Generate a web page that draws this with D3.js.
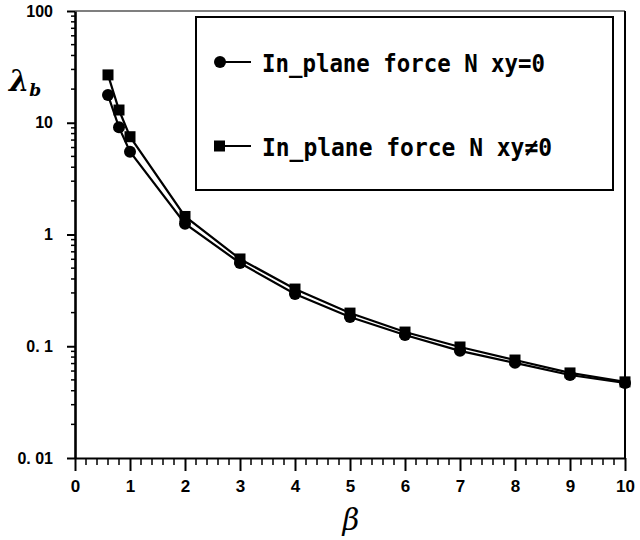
<!DOCTYPE html>
<html>
<head>
<meta charset="utf-8">
<script src="https://cdn.jsdelivr.net/npm/d3@7/dist/d3.min.js"></script>
<style>
  html, body { margin: 0; padding: 0; background: #fff; }
  svg { display: block; }
</style>
</head>
<body>
<svg id="chart" width="640" height="540"></svg>
<script>
// Buckling coefficient λb versus aspect ratio β
const betaValues = [0.6, 0.8, 1, 2, 3, 4, 5, 6, 7, 8, 9, 10];
const lambdaNxy0 = [17.7, 9.1, 5.5, 1.25, 0.556, 0.293, 0.183, 0.126, 0.091, 0.071, 0.0553, 0.0469];
const lambdaNxyNon0 = [26.8, 13.0, 7.5, 1.45, 0.604, 0.325, 0.198, 0.134, 0.0985, 0.0753, 0.0577, 0.048];

const xTickValues = [0, 1, 2, 3, 4, 5, 6, 7, 8, 9, 10];
const yTickValues = [100, 10, 1, 0.1, 0.01];
const yTickLabels = ["100", "10", "1", "0. 1", "0. 01"];

const legendLabels = ["In_plane force N xy=0", "In_plane force N xy\u22600"];

const svg = d3.select("#chart");
const plotLeft = 75, plotRight = 625, plotTop = 11, plotBottom = 458;

const x = d3.scaleLinear().domain([0, 10]).range([plotLeft, plotRight]);
const y = d3.scaleLog().domain([0.01, 100]).range([plotBottom, plotTop]);

const labelFont = "Liberation Sans, Arial, sans-serif";

// Frame: thin top edge and right edge
svg.append("line").attr("x1", plotLeft).attr("x2", plotRight).attr("y1", plotTop).attr("y2", plotTop)
  .attr("stroke", "#000").attr("stroke-width", 1.2);
svg.append("line").attr("x1", plotRight).attr("x2", plotRight).attr("y1", plotTop).attr("y2", plotBottom)
  .attr("stroke", "#000").attr("stroke-width", 2);

// Y axis (log)
const yAxis = svg.append("g").attr("transform", `translate(${plotLeft},0)`)
  .call(d3.axisLeft(y).tickValues(yTickValues).tickSize(8).tickSizeOuter(0)
    .tickFormat((d, i) => yTickLabels[i]));
yAxis.select(".domain").attr("stroke-width", 2.6);
yAxis.selectAll(".tick line").attr("stroke-width", 2);
yAxis.selectAll(".tick text")
  .attr("x", -22)
  .style("font-family", labelFont)
  .style("font-weight", "bold").style("font-size", "16px");

// Y minor ticks
const yMinor = [];
for (let e = -2; e < 2; e++) for (let m = 2; m <= 9; m++) yMinor.push(m * Math.pow(10, e));
svg.append("g").attr("class", "y-minor").selectAll("line").data(yMinor).join("line")
  .attr("x1", plotLeft - 4).attr("x2", plotLeft).attr("y1", d => y(d)).attr("y2", d => y(d))
  .attr("stroke", "#000").attr("stroke-width", 1.5);

// X axis
const xAxis = svg.append("g").attr("transform", `translate(0,${plotBottom})`)
  .call(d3.axisBottom(x).tickValues(xTickValues).tickSize(13).tickSizeOuter(0));
xAxis.select(".domain").attr("stroke-width", 2.2);
xAxis.selectAll(".tick line").attr("stroke-width", 2);
xAxis.selectAll(".tick text")
  .attr("y", 22)
  .style("font-family", labelFont)
  .style("font-weight", "bold").style("font-size", "17px");

// X minor ticks
const xMinor = d3.range(0, 10.001, 0.2).filter(v => Math.abs(v - Math.round(v)) > 1e-6);
svg.append("g").attr("class", "x-minor").selectAll("line").data(xMinor).join("line")
  .attr("x1", d => x(d)).attr("x2", d => x(d)).attr("y1", plotBottom).attr("y2", plotBottom + 7)
  .attr("stroke", "#000").attr("stroke-width", 1.5);

// Axis titles
svg.append("text").attr("x", 351).attr("y", 530).attr("text-anchor", "middle")
  .style("font-family", "DejaVu Serif, serif").style("font-style", "italic")
  .style("font-size", "29px").text("β");
const lam = svg.append("text").attr("x", 9).attr("y", 91)
  .style("font-family", "DejaVu Serif, serif").style("font-style", "italic").style("font-weight", "bold");
lam.append("tspan").style("font-size", "29px").text("λ");
lam.append("tspan").attr("dy", 5).style("font-size", "17px").text("b");

// Series
const line = d3.line().x(d => x(d[0])).y(d => y(d[1]));
const s1 = betaValues.map((b, i) => [b, lambdaNxy0[i]]);
const s2 = betaValues.map((b, i) => [b, lambdaNxyNon0[i]]);

[s1, s2].forEach(s => {
  svg.append("path").datum(s).attr("d", line).attr("fill", "none")
    .attr("stroke", "#000").attr("stroke-width", 2.2);
});
svg.append("g").selectAll("circle").data(s1).join("circle")
  .attr("cx", d => x(d[0])).attr("cy", d => y(d[1])).attr("r", 6).attr("fill", "#000");
svg.append("g").selectAll("rect").data(s2).join("rect")
  .attr("x", d => x(d[0]) - 5.5).attr("y", d => y(d[1]) - 5.5)
  .attr("width", 11).attr("height", 11).attr("fill", "#000");

// Legend
const lg = svg.append("g");
lg.append("rect").attr("x", 196).attr("y", 17).attr("width", 417).attr("height", 173)
  .attr("fill", "#fff").attr("stroke", "#000").attr("stroke-width", 2);
const rows = [62, 146];
rows.forEach((ry, i) => {
  lg.append("line").attr("x1", 219).attr("x2", 251).attr("y1", ry).attr("y2", ry)
    .attr("stroke", "#000").attr("stroke-width", 2);
  if (i === 0) {
    lg.append("circle").attr("cx", 220).attr("cy", ry).attr("r", 6).attr("fill", "#000");
  } else {
    lg.append("rect").attr("x", 214).attr("y", ry - 5.5).attr("width", 11).attr("height", 11).attr("fill", "#000");
  }
  lg.append("text").attr("x", 262).attr("y", ry + 9.5)
    .attr("textLength", i === 0 ? 283 : 290).attr("lengthAdjust", "spacingAndGlyphs")
    .style("font-family", "DejaVu Sans Mono, monospace").style("font-weight", "bold")
    .style("font-size", "25px").text(legendLabels[i]);
});
</script>
</body>
</html>
